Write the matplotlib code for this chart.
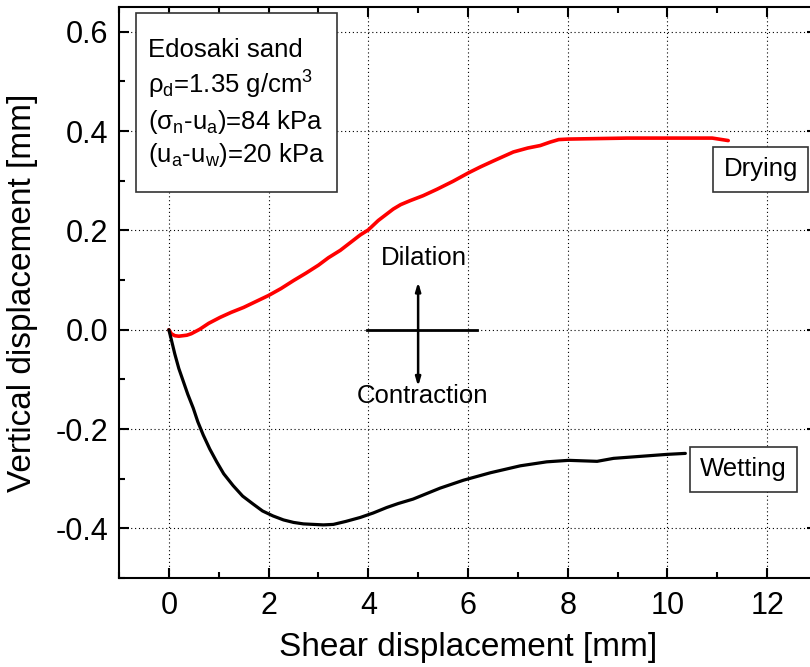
import matplotlib
matplotlib.use('Agg')
import matplotlib.pyplot as plt
from matplotlib.patches import Rectangle
from matplotlib.ticker import MultipleLocator

plt.rcParams['font.family'] = ['Liberation Sans', 'DejaVu Sans']
plt.rcParams['mathtext.fontset'] = 'custom'
plt.rcParams['mathtext.rm'] = 'Liberation Sans'

# drying path (red)
dry_x = [0, 0.05, 0.12, 0.2, 0.36, 0.45, 0.62, 0.8, 1.03, 1.25, 1.5, 1.75, 2.0, 2.25,
         2.5, 2.75, 3.0, 3.2, 3.44, 3.84, 4.0, 4.2, 4.5, 4.65, 4.84, 5.1, 5.38, 5.7,
         6.01, 6.25, 6.51, 6.91, 7.2, 7.45, 7.65, 7.82, 8.01, 9.19, 10.46, 10.9, 11.22]
dry_y = [0, -0.008, -0.012, -0.013, -0.011, -0.008, 0.001, 0.013, 0.025, 0.035, 0.045,
         0.057, 0.069, 0.083, 0.099, 0.114, 0.13, 0.145, 0.16, 0.191, 0.201, 0.22,
         0.243, 0.252, 0.26, 0.27, 0.283, 0.299, 0.316, 0.328, 0.34, 0.358, 0.366,
         0.371, 0.378, 0.383, 0.384, 0.386, 0.386, 0.386, 0.381]

# wetting path (black)
wet_x = [0, 0.05, 0.12, 0.2, 0.29, 0.38, 0.49, 0.58, 0.69, 0.82, 0.96, 1.1, 1.29,
         1.48, 1.69, 1.88, 2.09, 2.3, 2.5, 2.7, 2.9, 3.1, 3.3, 3.55, 3.84, 4.1, 4.37,
         4.6, 4.9, 5.44, 5.91, 6.45, 7.05, 7.58, 8.02, 8.59, 8.92, 9.99, 10.36]
wet_y = [0, -0.02, -0.049, -0.078, -0.104, -0.13, -0.158, -0.185, -0.212, -0.24,
         -0.266, -0.29, -0.314, -0.335, -0.351, -0.365, -0.375, -0.383, -0.388,
         -0.391, -0.392, -0.393, -0.392, -0.386, -0.378, -0.369, -0.358, -0.35,
         -0.341, -0.319, -0.303, -0.288, -0.274, -0.266, -0.263, -0.265, -0.259,
         -0.251, -0.249]

info_lines = ['Edosaki sand',
              r'$\mathregular{ρ_d}$=1.35 g/cm$\mathregular{^3}$',
              r'($\mathregular{σ_n}$-$\mathregular{u_a}$)=84 kPa',
              r'($\mathregular{u_a}$-$\mathregular{u_w}$)=20 kPa']

fig = plt.figure(figsize=(8.1, 6.67), dpi=100)
# right spine sits just past the picture edge, as in the original
ax = fig.add_axes([0.1469, 0.1334, 0.8617, 0.8561])

ax.plot(dry_x, dry_y, color='red', lw=2.6, solid_capstyle='round',
        solid_joinstyle='round', zorder=3)
ax.plot(wet_x, wet_y, color='black', lw=2.3, solid_capstyle='round',
        solid_joinstyle='round', zorder=3)

ax.set_xlim(-1, 13)
ax.set_ylim(-0.5, 0.65)
ax.xaxis.set_major_locator(MultipleLocator(2))
ax.xaxis.set_minor_locator(MultipleLocator(1))
ax.yaxis.set_major_locator(MultipleLocator(0.2))
ax.yaxis.set_minor_locator(MultipleLocator(0.1))
ax.set_yticks([-0.4, -0.2, 0.0, 0.2, 0.4, 0.6])
ax.set_yticklabels(['-0.4', '-0.2', '0.0', '0.2', '0.4', '0.6'])

ax.tick_params(which='both', direction='in', top=True, right=True, width=1.5,
               labelsize=22)
ax.tick_params(which='major', length=7.5)
ax.tick_params(which='minor', length=4)
ax.tick_params(axis='y', pad=8)
ax.tick_params(axis='x', pad=9)
for s in ax.spines.values():
    s.set_linewidth(1.5)

ax.grid(True, which='major', color='black', lw=0.8, linestyle=(0, (1, 2.5)))
ax.set_axisbelow(True)

ax.set_xlabel('Shear displacement [mm]', fontsize=24, labelpad=8)
ax.set_ylabel('Vertical displacement [mm]', fontsize=24, labelpad=12)

# info box
ax.add_patch(Rectangle((0.0244, 0.676), 0.2875, 0.3135, transform=ax.transAxes,
                       facecolor='white', edgecolor='#333333', lw=1.2, zorder=4))
for txt, yb in zip(info_lines, [0.912, 0.848, 0.786, 0.7286]):
    ax.text(0.0417, yb, txt, transform=ax.transAxes, fontsize=18.5, va='baseline',
            ha='left', zorder=5)

# dilation / contraction sign
ax.plot([3.97, 6.18], [0, 0], color='black', lw=2, zorder=3)
ax.annotate('', xy=(5.0, 0.096), xytext=(5.0, -0.114),
            arrowprops=dict(arrowstyle='<|-|>,head_length=0.5,head_width=0.15',
                            color='black', lw=1.8, shrinkA=0, shrinkB=0), zorder=3)
ax.text(5.12, 0.144, 'Dilation', fontsize=18.5, ha='center', va='center')
ax.text(5.09, -0.134, 'Contraction', fontsize=18.5, ha='center', va='center')

box = dict(boxstyle='square,pad=0.4', facecolor='white', edgecolor='#333333', lw=1.2)
ax.text(11.87, 0.323, 'Drying', fontsize=18.5, ha='center', va='center', bbox=box)
ax.text(11.52, -0.281, 'Wetting', fontsize=18.5, ha='center', va='center', bbox=box)

fig.savefig('out.png', dpi=100)
